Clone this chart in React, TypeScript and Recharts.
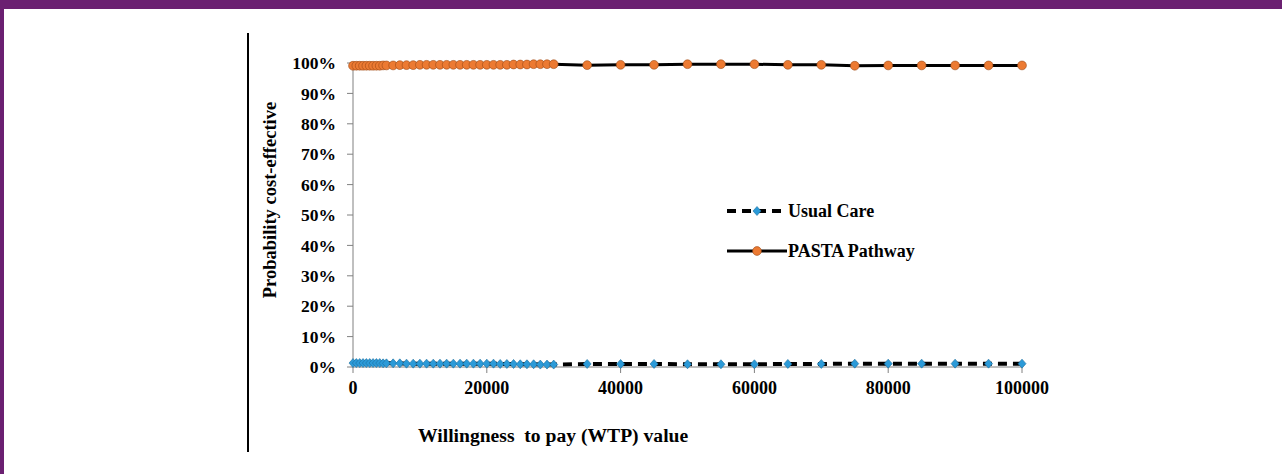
import React from 'react';
import { LineChart, Line, XAxis, YAxis, Legend } from 'recharts';

const wtpValues: number[] = [
  0, 500, 1000, 1500, 2000, 2500, 3000, 3500, 4000, 4500, 5000,
  6000, 7000, 8000, 9000, 10000, 11000, 12000, 13000, 14000, 15000,
  16000, 17000, 18000, 19000, 20000, 21000, 22000, 23000, 24000, 25000,
  26000, 27000, 28000, 29000, 30000,
  35000, 40000, 45000, 50000, 55000, 60000, 65000, 70000, 75000, 80000,
  85000, 90000, 95000, 100000,
];

const pastaValues: number[] = [
  99.1, 99.1, 99.1, 99.1, 99.1, 99.1, 99.1, 99.1, 99.1, 99.2, 99.2,
  99.2, 99.3, 99.3, 99.3, 99.4, 99.4, 99.4, 99.4, 99.4, 99.4,
  99.4, 99.4, 99.4, 99.4, 99.4, 99.4, 99.4, 99.4, 99.5, 99.5,
  99.5, 99.6, 99.6, 99.6, 99.6,
  99.3, 99.4, 99.4, 99.6, 99.6, 99.6, 99.4, 99.4, 99.1, 99.2,
  99.2, 99.2, 99.2, 99.2,
];

const usualValues: number[] = [
  1.3, 1.3, 1.3, 1.3, 1.3, 1.3, 1.3, 1.3, 1.3, 1.2, 1.2,
  1.2, 1.2, 1.1, 1.1, 1.1, 1.1, 1.1, 1.1, 1.1, 1.1,
  1.1, 1.1, 1.1, 1.1, 1.1, 1.1, 1.0, 1.0, 1.0, 0.9,
  0.9, 0.9, 0.8, 0.8, 0.8,
  1.0, 1.0, 1.0, 0.9, 0.9, 0.9, 1.0, 1.0, 1.1, 1.1,
  1.1, 1.1, 1.1, 1.1,
];

const xTicks: number[] = [0, 20000, 40000, 60000, 80000, 100000];
const yTicks: number[] = [0, 10, 20, 30, 40, 50, 60, 70, 80, 90, 100];

const data = wtpValues.map((w, i) => ({ wtp: w, usual: usualValues[i], pasta: pastaValues[i] }));

const FONT = '"Liberation Serif", "Times New Roman", serif';

const Diamond = (props: any) => {
  const { cx, cy, index } = props;
  if (cx == null || cy == null) return <g key={`d${index}`} />;
  return (
    <polygon
      key={`d${index}`}
      points={`${cx},${cy - 4.5} ${cx + 4},${cy} ${cx},${cy + 4.5} ${cx - 4},${cy}`}
      fill="#2b9ad8"
      stroke="#1c6e9e"
      strokeWidth={0.6}
    />
  );
};

const Circle = (props: any) => {
  const { cx, cy, index } = props;
  if (cx == null || cy == null) return <g key={`c${index}`} />;
  return <circle key={`c${index}`} cx={cx} cy={cy} r={4.4} fill="#ec7a32" stroke="#9a4a18" strokeWidth={0.6} />;
};

const LegendContent = () => (
  <div style={{ fontFamily: FONT, fontWeight: 'bold', fontSize: 18, color: '#000', lineHeight: '20px' }}>
    <div style={{ display: 'flex', alignItems: 'center', height: 20 }}>
      <svg width={60} height={20}>
        <line x1={0} y1={10} x2={60} y2={10} stroke="#000" strokeWidth={4} strokeDasharray="9 6" />
        <polygon points="30,5.5 34,10 30,14.5 26,10" fill="#2b9ad8" stroke="#1c6e9e" strokeWidth={0.6} />
      </svg>
      <span style={{ marginLeft: 1 }}>Usual Care</span>
    </div>
    <div style={{ display: 'flex', alignItems: 'center', height: 20, marginTop: 20 }}>
      <svg width={60} height={20}>
        <line x1={0} y1={10} x2={60} y2={10} stroke="#000" strokeWidth={3} />
        <circle cx={30} cy={10} r={4.4} fill="#ec7a32" stroke="#9a4a18" strokeWidth={0.6} />
      </svg>
      <span style={{ marginLeft: 1 }}>PASTA Pathway</span>
    </div>
  </div>
);

export default function App() {
  return (
    <div style={{ position: 'fixed', left: 0, top: 0, width: 1282, height: 474, background: '#fff', overflow: 'hidden' }}>
      <div style={{ position: 'absolute', left: 0, top: 0, width: 1282, height: 9, background: '#6b2071' }} />
      <div style={{ position: 'absolute', left: 0, top: 0, width: 4, height: 474, background: '#6b2071' }} />
      <div style={{ position: 'absolute', left: 247, top: 33, width: 2, height: 419, background: '#000' }} />
      <div style={{ position: 'absolute', left: 0, top: 0 }}>
        <LineChart width={1282} height={474} data={data} margin={{ top: 63, right: 260, bottom: 77, left: 293 }}>
          <XAxis
            dataKey="wtp"
            type="number"
            domain={[0, 100000]}
            ticks={xTicks}
            interval={0}
            height={30}
            tickSize={6}
            tickMargin={8}
            stroke="#808080"
            tick={{ fill: '#000', fontFamily: FONT, fontWeight: 'bold', fontSize: 18 }}
          />
          <YAxis
            type="number"
            domain={[0, 100]}
            ticks={yTicks}
            interval={0}
            width={60}
            tickSize={6}
            tickMargin={11}
            stroke="#808080"
            tickFormatter={(v: number) => `${v}%`}
            tick={{ fill: '#000', fontFamily: FONT, fontWeight: 'bold', fontSize: 17.5 }}
          />
          <Legend
            layout="vertical"
            verticalAlign="middle"
            align="center"
            content={<LegendContent />}
            wrapperStyle={{ position: 'absolute', left: 727, top: 201, width: 240 }}
          />
          <Line
            type="linear"
            dataKey="usual"
            name="Usual Care"
            stroke="#000"
            strokeWidth={4}
            strokeDasharray="9 6"
            dot={Diamond}
            isAnimationActive={false}
          />
          <Line
            type="linear"
            dataKey="pasta"
            name="PASTA Pathway"
            stroke="#000"
            strokeWidth={3}
            dot={Circle}
            isAnimationActive={false}
          />
        </LineChart>
      </div>
      <div
        style={{
          position: 'absolute',
          left: 270,
          top: 200,
          transform: 'translate(-50%, -50%) rotate(-90deg)',
          fontFamily: FONT,
          fontWeight: 'bold',
          fontSize: 18.5,
          whiteSpace: 'nowrap',
          color: '#000',
        }}
      >
        Probability cost-effective
      </div>
      <div
        style={{
          position: 'absolute',
          left: 418,
          top: 425,
          fontFamily: FONT,
          fontWeight: 'bold',
          fontSize: 19.6,
          whiteSpace: 'pre',
          color: '#000',
        }}
      >
        {'Willingness  to pay (WTP) value'}
      </div>
    </div>
  );
}
